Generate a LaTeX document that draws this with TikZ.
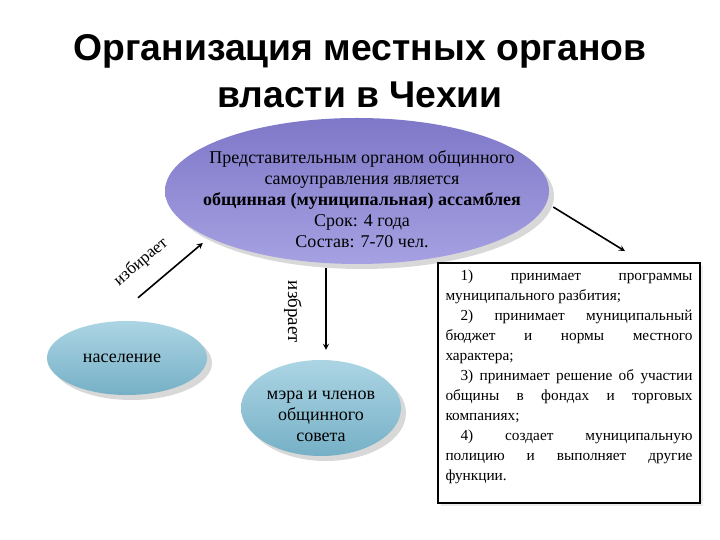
\documentclass[tikz,border=0pt]{standalone}
\usepackage{fontspec}
\setmainfont{Liberation Serif}
\newfontfamily\titlefont{Liberation Sans}
\usetikzlibrary{shapes.geometric, shadows}

\definecolor{lilactop}{RGB}{126,120,200}
\definecolor{lilacbot}{RGB}{166,161,226}
\definecolor{skytop}{RGB}{172,213,228}
\definecolor{skybot}{RGB}{118,176,198}

\tikzset{
    organ/.style={ellipse, draw=none, top color=lilactop, bottom color=lilacbot,
        drop shadow={opacity=0.3, shadow xshift=5pt, shadow yshift=-5pt}},
    people/.style={ellipse, draw=none, top color=skytop, bottom color=skybot,
        drop shadow={opacity=0.3, shadow xshift=5pt, shadow yshift=-5pt}},
    elect/.style={->, line width=1.6pt, >=stealth},
}

\begin{document}
\begin{tikzpicture}[x=1pt, y=1pt]

        \useasboundingbox (0,0) rectangle (720,540);
        \fill[white] (0,0) rectangle (720,540);

        % titulo
        \node[align=center, font=\titlefont\bfseries\fontsize{37.3}{47}\selectfont] (title) at (360,469)
            {Организация местных органов\\власти в Чехии};

        % ovais
        \node[organ, minimum width=384pt, minimum height=146pt] (assembly) at (357,349) {};
        \node[align=center, font=\fontsize{18}{21}\selectfont] (assemblytext) at (362,341)
            {Представительным органом общинного\\самоуправления является\\
             \textbf{общинная (муниципальная) ассамблея}\\Срок: 4 года\\Состав: 7-70 чел.};

        \node[people, minimum width=160pt, minimum height=74pt] (population) at (127,182) {};
        \node[font=\fontsize{18}{21}\selectfont] (populationtext) at (122,182) {население};

        \node[people, minimum width=160pt, minimum height=96pt] (council) at (321,132) {};
        \node[align=center, font=\fontsize{18}{21}\selectfont] (counciltext) at (321,124)
            {мэра и членов\\общинного\\совета};

        % caixa de funcoes
        \node[draw, line width=1.8pt, fill=white, minimum width=262pt, minimum height=240pt,
            drop shadow={opacity=0.15, shadow xshift=3pt, shadow yshift=-3pt}] (functions) at (569,157) {};
        \node[anchor=north, text width=247pt, align=justify, inner sep=0pt, font=\fontsize{15.3}{20}\selectfont] (functionstext) at (569,270)
            {\setlength{\parindent}{0pt}%
             \hspace*{15pt}1) принимает программы\linebreak муниципального разбития;\par
             \hspace*{15pt}2) принимает муниципальный\linebreak бюджет и нормы местного\linebreak характера;\par
             \hspace*{15pt}3) принимает решение об участии\linebreak общины в фондах и торговых\linebreak компаниях;\par
             \hspace*{15pt}4) создает муниципальную\linebreak полицию и выполняет другие\linebreak функции.};

        % setas
        \draw[elect] ([xshift=11pt, yshift=23pt]population.north) -- ([xshift=38pt, yshift=-52pt]assembly.west);
        \node[rotate=40, font=\fontsize{17}{21}\selectfont] (votelabel) at (141,278) {избирает};

        \draw[elect] ([xshift=-31pt, yshift=-4pt]assembly.south) -- ([xshift=5pt, yshift=10pt]council.north);
        \node[rotate=-90, font=\fontsize{19}{21}\selectfont] (chooselabel) at (293,228) {избрает};

        \draw[elect] ([xshift=4pt, yshift=-16pt]assembly.east) -- ([xshift=56pt, yshift=11pt]functions.north);

    \end{tikzpicture}
\end{document}
